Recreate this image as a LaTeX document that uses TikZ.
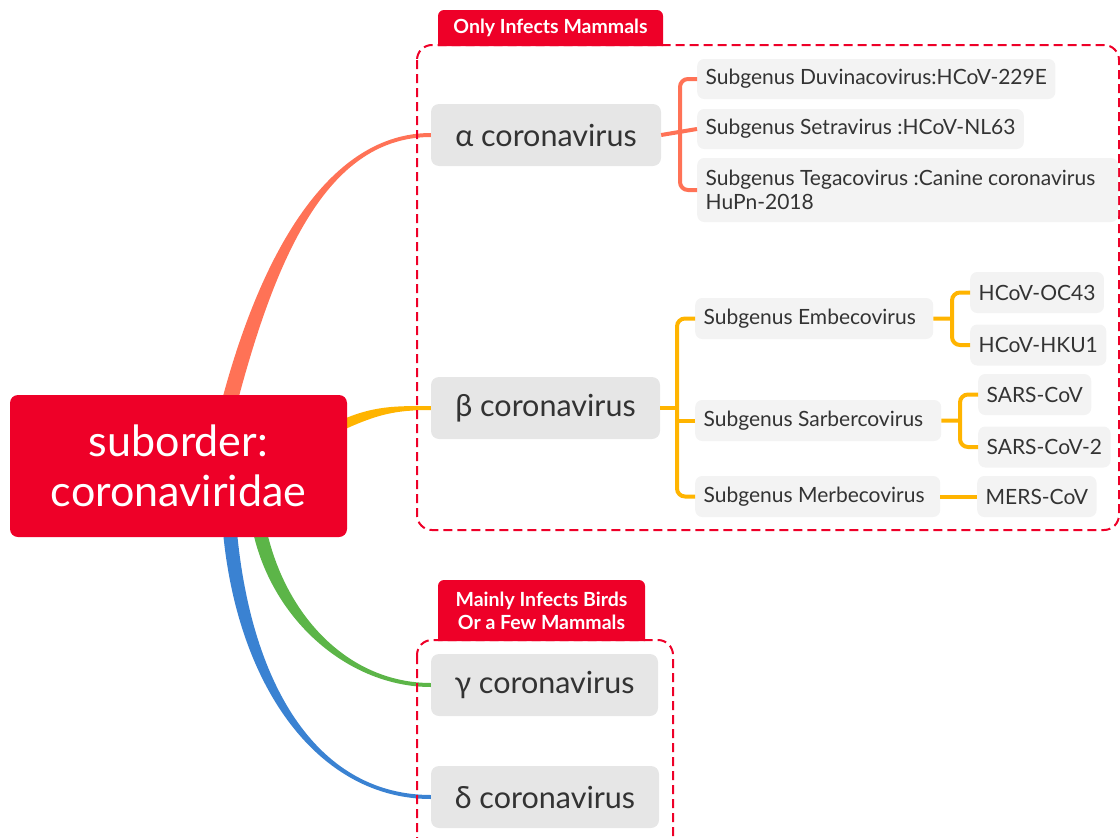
\documentclass[tikz,border=0pt]{standalone}
\usepackage{fontspec}
\usetikzlibrary{calc}
\setmainfont{Lato}
\definecolor{mainred}{HTML}{EE0028}
\definecolor{graynode}{HTML}{E6E6E6}
\definecolor{kidgray}{HTML}{F3F3F3}
\definecolor{txt}{HTML}{333333}
\definecolor{corange}{HTML}{FF7256}
\definecolor{cyellow}{HTML}{FFB400}
\definecolor{cgreen}{HTML}{5CB548}
\definecolor{cblue}{HTML}{3A82D2}
\tikzset{
  rootbox/.style={fill=mainred, text=white, rounded corners=8, minimum width=337, minimum height=142, align=center, inner sep=0, font=\fontsize{43}{50}\selectfont},
  genus/.style={fill=graynode, text=txt, rounded corners=8, minimum width=229, minimum height=62, inner sep=0, font=\fontsize{30.5}{34}\selectfont},
  kid/.style={fill=kidgray, text=txt, rounded corners=7, anchor=west, inner xsep=8.5, inner ysep=0, minimum height=41, align=flush left, font=\fontsize{21}{24}\selectfont},
  labtext/.style={text=white, align=center, inner sep=0, font=\bfseries\fontsize{19.5}{23}\selectfont},
  groupbox/.style={draw=mainred, line width=2, dash pattern=on 9 off 5, rounded corners=15},
  brk/.style={line width=4, rounded corners=8},
}
\begin{document}
\begin{tikzpicture}[x=1pt,y=-1pt]
\useasboundingbox (0,0) rectangle (1120,838);
\clip (0,0) rectangle (1120,838);

% tapered main connectors
\fill[corange] (222,400) .. controls (262,250) and (330,133) .. (431,133) -- (431,137) .. controls (330,137) and (278,250) .. (238,400) -- cycle;
\fill[cyellow] (338,421.5) .. controls (373,405.5) and (395,406) .. (431,406) -- (431,410) .. controls (395,410) and (377,414.5) .. (342,430.5) -- cycle;
\fill[cgreen] (253,532) .. controls (273,622) and (350,687) .. (431,687) -- (431,683) .. controls (350,683) and (287,618) .. (267,532) -- cycle;
\fill[cblue] (223,532) .. controls (238,690) and (320,799) .. (431,799) -- (431,795) .. controls (320,795) and (252,690) .. (237,532) -- cycle;

% group boxes and tabs
\draw[groupbox] (417,45) rectangle (1119,530);
\draw[groupbox] (417,640) rectangle (673,855);
\fill[mainred] (438,46) [rounded corners=6] -- (438,10) -- (663,10) [sharp corners] -- (663,46) -- cycle;
\fill[mainred] (438,641) [rounded corners=6] -- (438,580) -- (645,580) [sharp corners] -- (645,641) -- cycle;
\node[labtext] (lab1) at (550.5,27.5) {Only Infects Mammals};
\node[labtext] (lab2) at (541.5,610.5) {Mainly Infects Birds\\Or a Few Mammals};

% root and genus nodes
\node[rootbox] (root) at (178.5,466) {suborder:\\coronaviridae};
\node[genus, minimum width=230] (alpha) at (546,135) {α coronavirus};
\node[genus] (beta) at (545.5,408) {β coronavirus};
\node[genus, minimum width=227] (gamma) at (544.5,685) {γ coronavirus};
\node[genus, minimum width=228] (delta) at (545,797) {δ coronavirus};

% alpha children
\node[kid, minimum height=40] (d1) at (697,79) {Subgenus Duvinacovirus:HCoV-229E};
\node[kid, minimum height=40] (d2) at (697,129) {Subgenus Setravirus :HCoV-NL63};
\node[kid, text width=404, minimum height=64] (d3) at (697,190) {Subgenus Tegacovirus :Canine coronavirus\\HuPn-2018};

% beta children
\node[kid, text width=221] (e1) at (695,318.5) {Subgenus Embecovirus};
\node[kid, text width=229] (e2) at (695,420.5) {Subgenus Sarbercovirus};
\node[kid, text width=228] (e3) at (695,496.5) {Subgenus Merbecovirus};
\node[kid] (f1) at (970,292.5) {HCoV-OC43};
\node[kid] (f2) at (970,345) {HCoV-HKU1};
\node[kid] (f3) at (978,394.5) {SARS-CoV};
\node[kid] (f4) at (978,447) {SARS-CoV-2};
\node[kid] (f5) at (977,496.5) {MERS-CoV};

% brackets
\draw[brk, corange] (alpha.east) -- (d2.west);
\draw[brk, corange] (d1.west) -- ++(-17,0) |- (d3.west);
\draw[brk, cyellow] (beta.east) -- ++(17,0);
\draw[brk, cyellow] (e1.west) -- ++(-18,0) |- (e3.west);
\draw[brk, cyellow] (e2.west) -- ++(-18,0);
\draw[brk, cyellow] (f1.west) -- ++(-18,0) |- (f2.west);
\draw[brk, cyellow] (e1.east) -- ($(f1.west)!0.5!(f2.west) + (-18,0)$);
\draw[brk, cyellow] (f3.west) -- ++(-18,0) |- (f4.west);
\draw[brk, cyellow] (e2.east) -- ($(f3.west)!0.5!(f4.west) + (-18,0)$);
\draw[brk, cyellow] (e3.east) -- (f5.west);
\end{tikzpicture}
\end{document}
